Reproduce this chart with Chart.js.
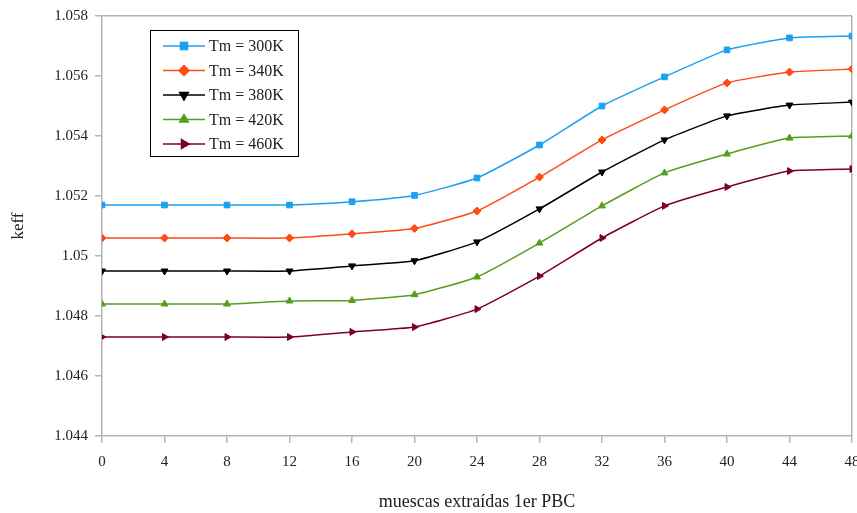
<!DOCTYPE html>
<html>
<head>
<meta charset="utf-8">
<script src="https://cdn.jsdelivr.net/npm/chart.js@4.4.1/dist/chart.umd.min.js"></script>
<style>
  html, body { margin: 0; padding: 0; background: #ffffff; }
  #wrap { width: 857px; height: 513px; }
</style>
</head>
<body>
<div id="wrap"><canvas id="keffChart" width="857" height="513"></canvas></div>
<script>
// muescas extraidas (x) y keff por temperatura
var muescas = [0, 4, 8, 12, 16, 20, 24, 28, 32, 36, 40, 44, 48];
var tm300 = [1.0517, 1.0517, 1.0517, 1.0517, 1.05181, 1.05202, 1.0526, 1.0537, 1.0550, 1.05597, 1.05687, 1.05727, 1.05733];
var tm340 = [1.0506, 1.0506, 1.0506, 1.0506, 1.05074, 1.05092, 1.0515, 1.05263, 1.05387, 1.05487, 1.05577, 1.05613, 1.05623];
var tm380 = [1.0495, 1.0495, 1.0495, 1.0495, 1.04967, 1.04984, 1.05047, 1.05157, 1.0528, 1.05387, 1.05467, 1.05503, 1.05513];
var tm420 = [1.0484, 1.0484, 1.0484, 1.0485, 1.04852, 1.04871, 1.0493, 1.05043, 1.05167, 1.05277, 1.0534, 1.05393, 1.054];
var tm460 = [1.0473, 1.0473, 1.0473, 1.0473, 1.04747, 1.04763, 1.04823, 1.04933, 1.0506, 1.05167, 1.0523, 1.05283, 1.0529];
var labels = ["Tm = 300K", "Tm = 340K", "Tm = 380K", "Tm = 420K", "Tm = 460K"];
var yMin = 1.044, yMax = 1.058, yStep = 0.002;

var serif = "'Liberation Serif', 'DejaVu Serif', serif";
var axisGray = '#b3b3b3';
var textCol = '#222222';

function pts(vals) {
    return vals.map(function(v, i) { return {x: muescas[i], y: v}; });
}

function serie(label, vals, color, style, rot, radius) {
    return {
        label: label,
        data: pts(vals),
        borderColor: color,
        backgroundColor: color,
        borderWidth: 1.5,
        pointStyle: style,
        rotation: rot,
        pointRadius: radius,
        pointBorderWidth: 1,
        tension: 0.15
    };
}

// leyenda dibujada dentro del grafico (caja arriba a la izquierda)
var boxLegend = {
    id: 'boxLegend',
    afterDraw: function(chart) {
        var ctx = chart.ctx;
        var x0 = 150, y0 = 30, w = 148, h = 126;
        ctx.save();
        ctx.fillStyle = '#ffffff';
        ctx.fillRect(x0, y0, w, h);
        ctx.strokeStyle = '#000000';
        ctx.lineWidth = 1;
        ctx.strokeRect(x0 + 0.5, y0 + 0.5, w, h);
        chart.data.datasets.forEach(function(ds, i) {
            var y = y0 + 16 + i * 24.5;
            ctx.strokeStyle = ds.borderColor;
            ctx.lineWidth = 1.5;
            ctx.beginPath();
            ctx.moveTo(163, y);
            ctx.lineTo(205, y);
            ctx.stroke();
            ctx.fillStyle = ds.backgroundColor;
            Chart.helpers.drawPoint(ctx, {
                pointStyle: ds.pointStyle,
                rotation: ds.rotation,
                radius: ds.pointRadius + 1,
                borderWidth: 1
            }, 184, y);
            ctx.fillStyle = textCol;
            ctx.font = '16px ' + serif;
            ctx.textBaseline = 'middle';
            ctx.textAlign = 'left';
            ctx.fillText(ds.label, 209, y + 1);
        });
        ctx.restore();
    }
};

var keffChart = document.getElementById('keffChart');
var myChart = new Chart(keffChart, {
    type: 'line',
    data: {
        datasets: [
            serie(labels[0], tm300, '#1ba1f2', 'rect', 0, 4),
            serie(labels[1], tm340, '#ff4a14', 'rectRot', 0, 4),
            serie(labels[2], tm380, '#000000', 'triangle', 180, 4),
            serie(labels[3], tm420, '#579d1c', 'triangle', 0, 4),
            serie(labels[4], tm460, '#7e0021', 'triangle', 90, 4)
        ]
    },
    options: {
        responsive: false,
        animation: false,
        layout: { padding: { top: 16, right: 5, left: 0, bottom: 0 } },
        plugins: {
            legend: { display: false },
            tooltip: { enabled: false }
        },
        scales: {
            x: {
                type: 'linear',
                min: 0,
                max: 48,
                afterFit: function(s) { s.height = 77; s.paddingRight = 0; s.paddingLeft = 0; },
                ticks: {
                    stepSize: 4,
                    color: textCol,
                    padding: 10,
                    font: { family: serif, size: 15 }
                },
                grid: {
                    color: function(c) { return c.tick && c.tick.value === 48 ? axisGray : 'rgba(0,0,0,0)'; },
                    tickColor: axisGray,
                    tickLength: 7,
                    lineWidth: 1.5
                },
                border: { color: axisGray, width: 1.5 },
                title: {
                    display: true,
                    text: 'muescas extraídas 1er PBC',
                    color: textCol,
                    font: { family: serif, size: 18 },
                    padding: { top: 12, bottom: 0 }
                }
            },
            y: {
                min: yMin,
                max: yMax,
                afterFit: function(s) { s.width = 102; },
                ticks: {
                    stepSize: yStep,
                    color: textCol,
                    padding: 7,
                    font: { family: serif, size: 15 },
                    callback: function(v) { return parseFloat(v.toFixed(3)).toString(); }
                },
                grid: {
                    color: function(c) { return c.tick && Math.abs(c.tick.value - yMax) < 1e-9 ? axisGray : 'rgba(0,0,0,0)'; },
                    tickColor: axisGray,
                    tickLength: 7,
                    lineWidth: 1.5
                },
                border: { color: axisGray, width: 1.5 },
                title: {
                    display: true,
                    text: 'keff',
                    color: textCol,
                    font: { family: serif, size: 17 },
                    padding: { top: 8, bottom: 10 }
                }
            }
        }
    },
    plugins: [boxLegend]
});
</script>
</body>
</html>
